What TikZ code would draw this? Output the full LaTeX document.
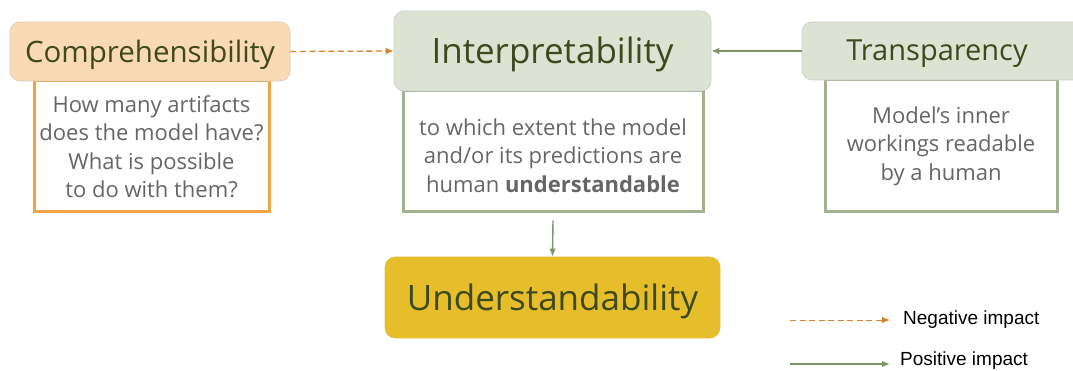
\documentclass[tikz,border=0pt]{standalone}
\usepackage{fontspec}
\setmainfont{Open Sans}
\newfontfamily\legendfont{Liberation Sans}
\usetikzlibrary{arrows.meta}

\definecolor{peachfill}{HTML}{F9DAB5}
\definecolor{peachline}{HTML}{DCCBB3}
\definecolor{orangeline}{HTML}{F0A446}
\definecolor{sagefill}{HTML}{DCE3D3}
\definecolor{sageline}{HTML}{A4B18F}
\definecolor{posarrow}{HTML}{7E9468}
\definecolor{negarrow}{HTML}{D9822B}
\definecolor{goldfill}{HTML}{E6BD2A}
\definecolor{headtext}{HTML}{3E4A1E}
\definecolor{bodytext}{HTML}{666666}

\newcommand{\lowered}[2]{\raisebox{-#1}[\height][\depth]{#2}}

\begin{document}
\begin{tikzpicture}[
        x=1pt, y=-1pt,
        head/.style = {shape=rectangle, rounded corners=10pt, draw=#1, line width=0.6pt, text=headtext, inner sep=0pt},
        bodybox/.style = {shape=rectangle, draw=#1, line width=3pt, fill=white, align=center, text=bodytext, font=\fontsize{22}{28.5}\selectfont, inner sep=0pt},
        posline/.style = {draw=posarrow, line width=1.4pt, -{Latex[length=8pt,width=6.5pt]}},
        negline/.style = {draw=negarrow, line width=1.3pt, dash pattern=on 6pt off 3.5pt, -{Latex[length=8pt,width=6.5pt]}}
    ]
    \useasboundingbox (0,0) rectangle (1073,371);

    % bodies first, headers on top
    \node[bodybox=orangeline, minimum width=235pt, minimum height=131pt] (compbody) at (151.5,146.5)
        {How many artifacts\\does the model have?\\What is possible\\to do with them?};
    \node[bodybox=sageline, minimum width=300pt, minimum height=121pt] (interbody) at (553,151.5)
        {\lowered{4pt}{to which extent the model}\\\lowered{4pt}{and/or its predictions are}\\\lowered{4pt}{human \textbf{understandable}}};
    \node[bodybox=sageline, minimum width=232pt, minimum height=132pt] (transbody) at (941,146)
        {Model’s inner\\workings readable\\by a human};

    \node[head=peachline, fill=peachfill, minimum width=280pt, minimum height=59pt, font=\fontsize{29.5}{30}\selectfont] (comp) at (150,51.5) {\lowered{3pt}{Comprehensibility}};
    \node[head=sagefill!80!gray, fill=sagefill, minimum width=317pt, minimum height=80pt, font=\fontsize{35}{38}\selectfont] (inter) at (552.5,51) {\lowered{3pt}{Interpretability}};
    \node[head=sagefill!80!gray, fill=sagefill, minimum width=290pt, minimum height=58pt, font=\fontsize{29}{30}\selectfont] (trans) at (947,51) {\hspace*{-20pt}\lowered{3pt}{Transparency}};
    \node[head=goldfill!90!white, fill=goldfill, minimum width=335pt, minimum height=81pt, font=\fontsize{35}{38}\selectfont] (under) at (552.5,297.5) {\lowered{4pt}{Understandability}};

    \draw[negline] (comp.east) -- (inter.west);
    \draw[posline] (trans.west) -- (inter.east);
    \draw[posline] ([yshift=-7pt]interbody.south) -- (under.north);

    % legend
    \coordinate (negstart) at (790,320);
    \coordinate (negend) at (890,320);
    \coordinate (posstart) at (790,364);
    \coordinate (posend) at (890,364);
    \draw[negline, line width=1pt] (negstart) -- (negend);
    \draw[posline, line width=1.4pt] (posstart) -- (posend);
    \node[anchor=west, font=\legendfont\fontsize{19}{20}\selectfont, inner sep=0pt] (neglabel) at (903,320) {Negative impact};
    \node[anchor=west, font=\legendfont\fontsize{19}{20}\selectfont, inner sep=0pt] (poslabel) at (900,361) {Positive impact};
\end{tikzpicture}
\end{document}
